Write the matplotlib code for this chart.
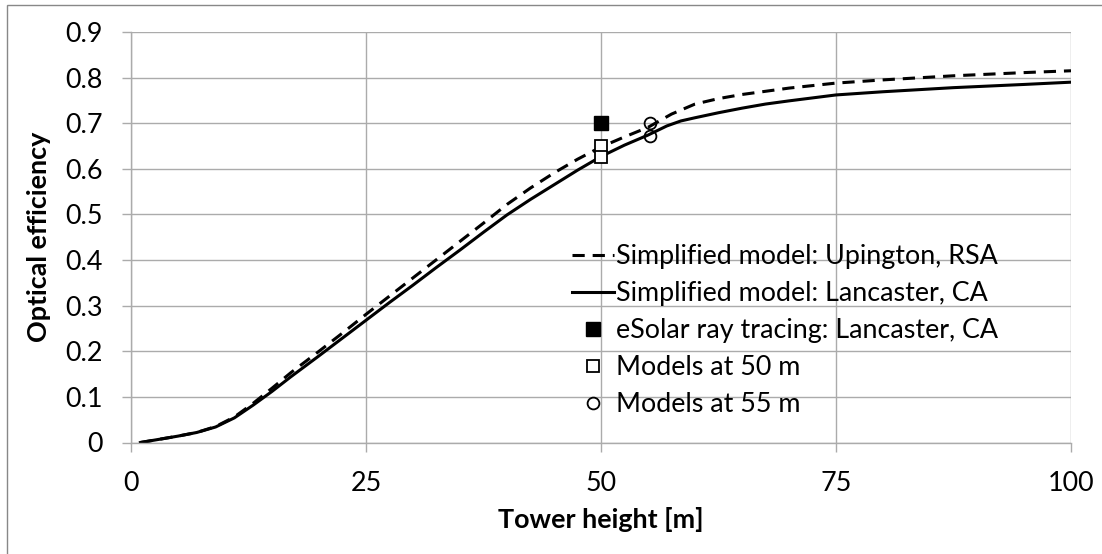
import matplotlib
matplotlib.use("Agg")
import matplotlib.pyplot as plt
from matplotlib.patches import Rectangle

plt.rcParams['font.family'] = ['Lato', 'DejaVu Sans']

# Simplified model, Upington RSA (dashed)
x_up = [1, 3, 5, 7, 9, 11, 13, 15, 17, 20, 22.5, 25, 27.5, 30, 32.5, 35, 37.5, 40, 42.5, 45, 47.5, 50,
        52.5, 55, 57.5, 60, 62.5, 65, 67.5, 70, 75, 80, 87.5, 95, 100]
y_up = [0.0, 0.007, 0.014, 0.022, 0.035, 0.056, 0.086, 0.119, 0.153, 0.200, 0.240, 0.281, 0.321, 0.361,
        0.401, 0.441, 0.481, 0.522, 0.558, 0.591, 0.621, 0.648, 0.670, 0.691, 0.720, 0.742, 0.754, 0.763,
        0.770, 0.777, 0.788, 0.795, 0.804, 0.811, 0.815]

# Simplified model, Lancaster CA (solid)
x_la = [1, 3, 5, 7, 9, 11, 13, 15, 17, 20, 22.5, 25, 27.5, 30, 32.5, 35, 37.5, 40, 42.5, 45, 47.5, 50,
        52.5, 55, 57, 58.5, 60, 62.5, 65, 67.5, 70, 75, 80, 87.5, 95, 100]
y_la = [0.0, 0.007, 0.014, 0.022, 0.034, 0.054, 0.082, 0.112, 0.144, 0.190, 0.229, 0.268, 0.307, 0.345,
        0.384, 0.422, 0.461, 0.499, 0.533, 0.565, 0.597, 0.627, 0.652, 0.674, 0.694, 0.705, 0.712, 0.723,
        0.733, 0.742, 0.749, 0.762, 0.769, 0.778, 0.785, 0.790]

# single points
x_esolar = [50]
y_esolar = [0.70]
x_m50 = [50, 50]
y_m50 = [0.650, 0.626]
x_m55 = [55.2, 55.2]
y_m55 = [0.701, 0.673]

xticks = [0, 25, 50, 75, 100]
yticks = [0, 0.1, 0.2, 0.3, 0.4, 0.5, 0.6, 0.7, 0.8, 0.9]
ytick_labels = ['0', '0.1', '0.2', '0.3', '0.4', '0.5', '0.6', '0.7', '0.8', '0.9']

W, H = 1102, 554
fig = plt.figure(figsize=(W / 100, H / 100), dpi=100)
ax = fig.add_axes([131 / W, (H - 442.5) / H, (1071 - 131) / W, (442.5 - 32) / H])

grid_c = '#ababab'
fs = 19.4

ax.plot(x_up, y_up, color='black', lw=2.2, linestyle=(0, (4, 2.6)), label='Simplified model: Upington, RSA')
ax.plot(x_la, y_la, color='black', lw=2.2, label='Simplified model: Lancaster, CA')
ax.plot(x_esolar, y_esolar, 's', color='black', ms=9.5, mec='black', label='eSolar ray tracing: Lancaster, CA')
ax.plot(x_m50, y_m50, 's', mfc='white', mec='black', ms=8.5, mew=1.3, label='Models at 50 m')
ax.plot(x_m55, y_m55, 'o', mfc='none', mec='black', ms=8.5, mew=1.3, label='Models at 55 m')

ax.set_xlim(0, 100)
ax.set_ylim(0, 0.9)
ax.set_xticks(xticks)
ax.set_yticks(yticks)
ax.set_yticklabels(ytick_labels)
ax.grid(True, color=grid_c, lw=1.0)
ax.set_axisbelow(True)
for s in ['top', 'right']:
    ax.spines[s].set_visible(False)
for s in ['left', 'bottom']:
    ax.spines[s].set_color(grid_c)
    ax.spines[s].set_linewidth(1.0)
ax.tick_params(axis='both', direction='out', length=6.5, width=1.0, color=grid_c, labelsize=fs)
ax.tick_params(axis='y', pad=14)
ax.tick_params(axis='x', pad=14)

ax.set_xlabel('Tower height [m]', fontsize=fs, fontweight='bold', labelpad=8)
ax.set_ylabel('Optical efficiency', fontsize=fs, fontweight='bold', labelpad=10)

leg = ax.legend(loc='upper left', bbox_to_anchor=((572 - 131) / (1071 - 131), (442.5 - 244) / (442.5 - 32)),
                frameon=False, fontsize=fs, handlelength=1.55, handletextpad=0.1,
                labelspacing=0.45, borderpad=0, borderaxespad=0)

fig.patches.append(Rectangle((7 / W, -0.1), 1.2, (H - 5) / H + 0.1, transform=fig.transFigure,
                             fill=False, edgecolor='#888888', lw=1.0))

fig.savefig('out.png', dpi=100)
